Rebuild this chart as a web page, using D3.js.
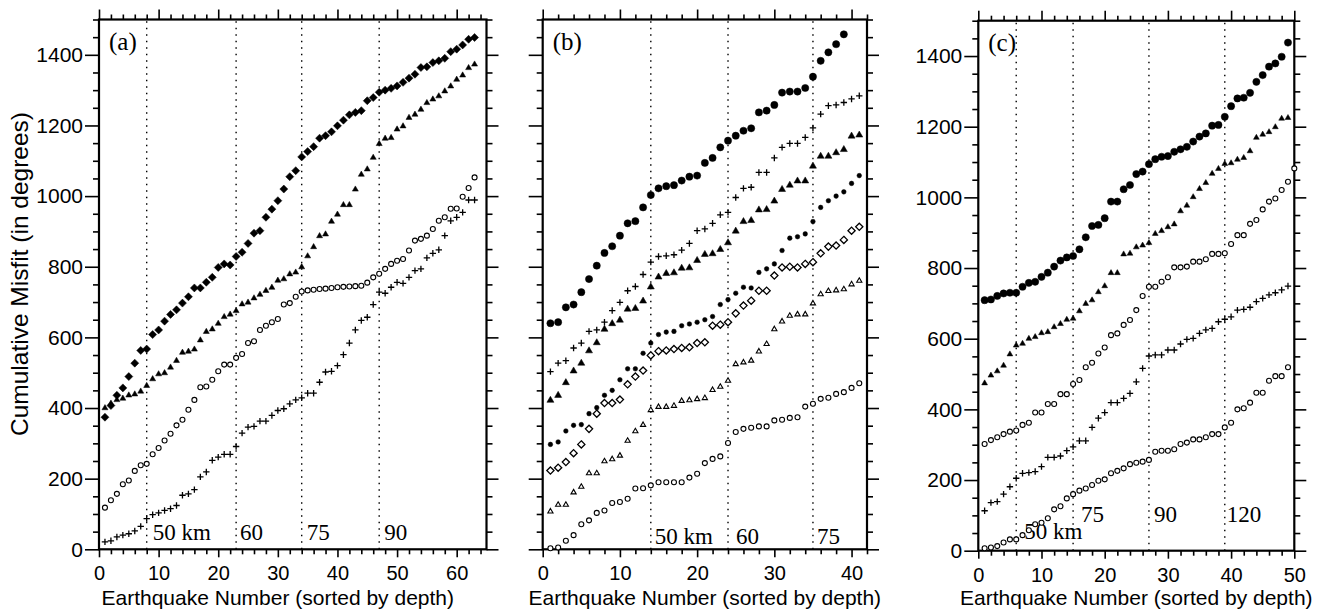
<!DOCTYPE html>
<html>
<head>
<meta charset="utf-8">
<script src="https://cdn.jsdelivr.net/npm/d3@7"></script>
<style>
  body { margin: 0; background: #fff; }
  svg { display: block; }
  .tick text { font-family: "Liberation Sans", Arial, sans-serif; fill: #000; }
  .domain { display: none; }
  .tick line { stroke: #000; stroke-width: 1.6; }
</style>
</head>
<body>
<div id="chart"></div>
<script>
// ---- data ----
// panel (a): 63 earthquakes
const aDiamond = [374, 407, 436, 457, 489, 527, 563, 567, 608, 621, 646, 665, 678, 697, 715, 740, 740, 756, 770, 798,
  808, 805, 829, 841, 866, 895, 902, 940, 963, 987, 1020, 1055, 1072, 1111, 1126, 1140, 1164, 1171, 1182, 1199,
  1215, 1230, 1237, 1242, 1270, 1279, 1294, 1300, 1305, 1312, 1322, 1334, 1345, 1364, 1366, 1378, 1383, 1390, 1409, 1416,
  1428, 1444, 1449];
const aTriangle = [401, 414, 424, 428, 437, 440, 448, 464, 483, 497, 500, 516, 535, 558, 561, 567, 593, 617, 624, 640,
  659, 666, 676, 695, 700, 712, 722, 733, 742, 762, 766, 780, 785, 800, 831, 857, 888, 893, 929, 949,
  976, 976, 1020, 1062, 1077, 1110, 1149, 1164, 1166, 1190, 1199, 1223, 1232, 1246, 1265, 1275, 1284, 1298, 1312, 1331,
  1343, 1364, 1374];
const aCircle = [118, 139, 157, 184, 195, 222, 238, 242, 269, 287, 308, 327, 351, 367, 395, 423, 459, 461, 480, 504,
  523, 523, 542, 553, 584, 589, 621, 633, 643, 652, 693, 697, 715, 730, 733, 735, 737, 738, 740, 742,
  743, 744, 745, 746, 755, 770, 780, 794, 808, 817, 822, 846, 874, 879, 888, 907, 930, 940, 964, 965,
  998, 1023, 1053];
const aPlus = [21, 24, 35, 40, 44, 52, 65, 87, 98, 103, 110, 115, 124, 153, 157, 169, 205, 219, 252, 261,
  269, 269, 291, 329, 346, 348, 363, 363, 379, 393, 398, 412, 423, 429, 442, 442, 473, 502, 504, 520,
  551, 584, 621, 648, 657, 693, 728, 725, 742, 756, 753, 770, 789, 794, 825, 838, 848, 888, 930, 940,
  954, 989, 989];

// panel (b): 39-41 earthquakes
const bCircle = [640, 643, 685, 693, 728, 765, 803, 839, 858, 888, 923, 929, 968, 1003, 1022, 1028, 1031, 1044, 1055, 1058,
  1094, 1108, 1138, 1157, 1171, 1185, 1192, 1237, 1242, 1258, 1293, 1296, 1296, 1306, 1338, 1383, 1407, 1430, 1458];
const bPlus = [503, 527, 534, 570, 584, 617, 621, 643, 676, 699, 732, 744, 778, 813, 829, 831, 834, 847, 866, 902,
  907, 923, 947, 954, 996, 1022, 1025, 1067, 1067, 1108, 1138, 1149, 1149, 1166, 1193, 1232, 1256, 1258, 1265, 1275, 1284];
const bTriangle = [423, 437, 473, 506, 528, 563, 586, 624, 640, 650, 681, 683, 704, 744, 772, 782, 784, 797, 798, 819,
  836, 838, 850, 869, 902, 929, 932, 962, 963, 987, 1020, 1032, 1044, 1044, 1086, 1114, 1114, 1124, 1133, 1171, 1174];
const bDot = [297, 304, 335, 351, 353, 384, 401, 436, 450, 480, 511, 511, 555, 584, 608, 615, 617, 633, 638, 643,
  650, 659, 693, 707, 725, 742, 740, 784, 794, 808, 846, 881, 885, 893, 928, 968, 987, 1000, 1012, 1036, 1058];
const bDiamond = [223, 231, 247, 272, 297, 341, 384, 414, 414, 424, 467, 489, 506, 549, 561, 563, 567, 570, 572, 584,
  586, 633, 636, 643, 668, 690, 704, 732, 732, 775, 798, 800, 798, 808, 813, 838, 857, 860, 876, 902, 913];
const bOpenTri = [108, 127, 127, 162, 178, 216, 216, 250, 256, 266, 308, 335, 353, 395, 404, 404, 407, 421, 423, 426,
  429, 452, 461, 478, 525, 530, 535, 561, 582, 624, 646, 662, 666, 666, 697, 723, 732, 734, 737, 751, 761];
const bOpenCircle = [3, 5, 24, 40, 71, 82, 103, 110, 131, 134, 143, 172, 173, 181, 190, 190, 190, 190, 203, 214,
  244, 256, 263, 301, 332, 341, 344, 348, 348, 365, 367, 372, 374, 404, 412, 426, 429, 440, 445, 457, 470];

// panel (c): 49-50 earthquakes
const cCircle = [709, 711, 721, 728, 730, 730, 747, 758, 761, 775, 787, 804, 821, 830, 834, 853, 887, 919, 922, 941,
  988, 988, 1023, 1035, 1066, 1073, 1094, 1108, 1115, 1117, 1129, 1136, 1143, 1158, 1172, 1181, 1203, 1205, 1228, 1258,
  1280, 1282, 1296, 1327, 1346, 1370, 1379, 1398, 1438];
const cTriangle = [475, 497, 509, 525, 557, 582, 587, 601, 606, 617, 620, 634, 643, 655, 658, 679, 700, 710, 733, 750,
  787, 787, 840, 842, 860, 865, 872, 898, 906, 917, 925, 962, 978, 1002, 1025, 1042, 1068, 1082, 1096, 1098,
  1108, 1113, 1132, 1170, 1179, 1186, 1200, 1224, 1226];
const cOpenUpper = [302, 313, 321, 330, 337, 340, 356, 362, 391, 391, 415, 415, 443, 443, 472, 483, 519, 532, 558, 575,
  610, 615, 639, 653, 681, 721, 747, 747, 761, 774, 802, 802, 804, 818, 818, 825, 840, 840, 842, 868,
  893, 893, 925, 936, 966, 988, 997, 1021, 1044, 1082];
const cPlus = [113, 136, 139, 160, 181, 205, 219, 221, 224, 238, 264, 264, 268, 283, 294, 311, 311, 349, 375, 391,
  419, 419, 431, 445, 478, 516, 551, 554, 554, 568, 568, 585, 598, 601, 615, 625, 629, 648, 655, 662,
  681, 683, 689, 705, 714, 724, 730, 738, 749];
const cOpenLower = [7, 9, 13, 23, 32, 32, 44, 58, 75, 79, 92, 117, 126, 148, 160, 170, 176, 186, 198, 202,
  219, 226, 233, 245, 249, 252, 257, 280, 283, 283, 287, 302, 306, 315, 315, 321, 330, 330, 349, 362,
  400, 403, 419, 447, 447, 481, 494, 494, 519];

// depth boundaries (earthquake number) and their labels
const aDepths = [8, 23, 34, 47];
const aDepthLabels = ["50 km", "60", "75", "90"];
const bDepths = [14, 24, 35];
const bDepthLabels = ["50 km", "60", "75"];
const cDepths = [6, 15, 27, 39];
const cDepthLabels = ["50 km", "75", "90", "120"];

const yTicks = [0, 200, 400, 600, 800, 1000, 1200, 1400];

// ---- layout ----
const W = 1336, H = 615;
const svg = d3.select("#chart").append("svg").attr("width", W).attr("height", H);

const panels = [
  { tag: "(a)", left: 99, right: 486.5, top: 19.5, bottom: 549.3, xMax: 65, yLabels: true, titleDx: -15,
    depths: aDepths, depthLabels: aDepthLabels, labelDy: [0, 0, 0, 0], labelDx: [6, 4, 5, 5],
    series: [
      { v: aDiamond, m: "diamondF", s: 4 },
      { v: aTriangle, m: "triF", s: 6 },
      { v: aCircle, m: "circleO", s: 2.5 },
      { v: aPlus, m: "plus", s: 3.2 }
    ] },
  { tag: "(b)", left: 542.7, right: 867, top: 19.5, bottom: 549.3, xMax: 42, yLabels: false, titleDx: 0,
    depths: bDepths, depthLabels: bDepthLabels, labelDy: [4, 4, 4], labelDx: [4, 8, 4],
    series: [
      { v: bCircle, m: "circleF", s: 3.6 },
      { v: bPlus, m: "plus", s: 3.2 },
      { v: bTriangle, m: "triF", s: 7 },
      { v: bDot, m: "circleF", s: 2.3 },
      { v: bDiamond, m: "diamondO", s: 3.6 },
      { v: bOpenTri, m: "triO", s: 5.2 },
      { v: bOpenCircle, m: "circleO", s: 2.5 }
    ] },
  { tag: "(c)", left: 978.3, right: 1294.3, top: 20.7, bottom: 550.7, xMax: 50, yLabels: true, titleDx: 0,
    depths: cDepths, depthLabels: cDepthLabels, labelDy: [-3, -20, -20, -20], labelDx: [8, 8, 5, 2],
    series: [
      { v: cCircle, m: "circleF", s: 3.6 },
      { v: cTriangle, m: "triF", s: 5.8 },
      { v: cOpenUpper, m: "circleO", s: 2.5 },
      { v: cPlus, m: "plus", s: 3.2 },
      { v: cOpenLower, m: "circleO", s: 2.5 }
    ] }
];

function marker(sel, type, s) {
  if (type === "circleF" || type === "circleO") {
    sel.append("circle").attr("r", s)
      .attr("fill", type === "circleF" ? "#000" : "#fff")
      .attr("stroke", "#000").attr("stroke-width", type === "circleF" ? 0.5 : 1.1);
  } else if (type === "diamondF" || type === "diamondO") {
    sel.append("path").attr("d", `M0,${-s}L${s},0L0,${s}L${-s},0Z`)
      .attr("fill", type === "diamondF" ? "#000" : "#fff")
      .attr("stroke", "#000").attr("stroke-width", type === "diamondF" ? 0.5 : 1.3);
  } else if (type === "triF" || type === "triO") {
    const h = s * 0.866;
    sel.append("path").attr("d", `M0,${-h * 0.6}L${s / 2},${h * 0.4}L${-s / 2},${h * 0.4}Z`)
      .attr("fill", type === "triF" ? "#000" : "#fff")
      .attr("stroke", "#000").attr("stroke-width", type === "triF" ? 0.5 : 1.1);
  } else if (type === "plus") {
    sel.append("path").attr("d", `M${-s},0H${s}M0,${-s}V${s}`)
      .attr("stroke", "#000").attr("stroke-width", 1.3).attr("fill", "none");
  }
}

panels.forEach(p => {
  const x = d3.scaleLinear().domain([0, p.xMax]).range([p.left, p.right]);
  const y = d3.scaleLinear().domain([0, 1500]).range([p.bottom, p.top]);
  const g = svg.append("g");

  const majorX = d3.range(0, p.xMax + 0.1, 10);
  const minorX = d3.range(0, p.xMax + 0.1, 2).filter(d => d % 10 !== 0);
  const minorY = d3.range(0, 1501, 50).filter(d => d % 200 !== 0);

  // major / minor ticks on all four sides (outward)
  g.append("g").attr("transform", `translate(0,${p.bottom})`)
    .call(d3.axisBottom(x).tickValues(majorX).tickSize(8).tickPadding(9).tickFormat(d3.format("d")))
    .selectAll("text").attr("font-size", 20);
  g.append("g").attr("transform", `translate(0,${p.bottom})`)
    .call(d3.axisBottom(x).tickValues(minorX).tickSize(5).tickFormat(""));
  g.append("g").attr("transform", `translate(0,${p.top})`)
    .call(d3.axisTop(x).tickValues(majorX).tickSize(10).tickFormat(""));
  g.append("g").attr("transform", `translate(0,${p.top})`)
    .call(d3.axisTop(x).tickValues(minorX).tickSize(5).tickFormat(""));
  g.append("g").attr("transform", `translate(${p.left},0)`)
    .call(d3.axisLeft(y).tickValues(yTicks).tickSize(14).tickPadding(2)
      .tickFormat(p.yLabels ? d3.format("d") : ""))
    .selectAll("text").attr("font-size", 21);
  g.append("g").attr("transform", `translate(${p.left},0)`)
    .call(d3.axisLeft(y).tickValues(minorY).tickSize(6).tickFormat(""));
  g.append("g").attr("transform", `translate(${p.right},0)`)
    .call(d3.axisRight(y).tickValues(yTicks).tickSize(12).tickFormat(""));
  g.append("g").attr("transform", `translate(${p.right},0)`)
    .call(d3.axisRight(y).tickValues(minorY).tickSize(6).tickFormat(""));

  // frame
  g.append("rect").attr("x", p.left).attr("y", p.top)
    .attr("width", p.right - p.left).attr("height", p.bottom - p.top)
    .attr("fill", "none").attr("stroke", "#000").attr("stroke-width", 2.2);

  // depth boundaries
  g.selectAll(".depth").data(p.depths).join("line")
    .attr("x1", d => x(d)).attr("x2", d => x(d))
    .attr("y1", p.bottom).attr("y2", p.top)
    .attr("stroke", "#000").attr("stroke-width", 1.4).attr("stroke-dasharray", "1.5,5");
  g.selectAll(".depthLabel").data(p.depths).join("text")
    .attr("x", (d, i) => x(d) + p.labelDx[i])
    .attr("y", (d, i) => p.bottom - 9 + p.labelDy[i])
    .attr("font-family", "'Liberation Serif', 'Times New Roman', serif")
    .attr("font-size", 23)
    .text((d, i) => p.depthLabels[i]);

  // data
  p.series.forEach(sr => {
    g.append("g").selectAll("g").data(sr.v).join("g")
      .attr("transform", (d, i) => `translate(${x(i + 1)},${y(d)})`)
      .each(function () { marker(d3.select(this), sr.m, sr.s); });
  });

  g.append("text").attr("x", p.left + 10).attr("y", p.top + 30)
    .attr("font-family", "'Liberation Serif', 'Times New Roman', serif")
    .attr("font-size", 25).text(p.tag);

  g.append("text").attr("x", (p.left + p.right) / 2 + p.titleDx).attr("y", 605)
    .attr("text-anchor", "middle")
    .attr("font-family", "'Liberation Sans', Arial, sans-serif").attr("font-size", 21)
    .text("Earthquake Number (sorted by depth)");
});

svg.append("text")
  .attr("transform", "translate(28,274) rotate(-90)")
  .attr("text-anchor", "middle")
  .attr("font-family", "'Liberation Sans', Arial, sans-serif").attr("font-size", 24.5)
  .text("Cumulative Misfit (in degrees)");
</script>
</body>
</html>
